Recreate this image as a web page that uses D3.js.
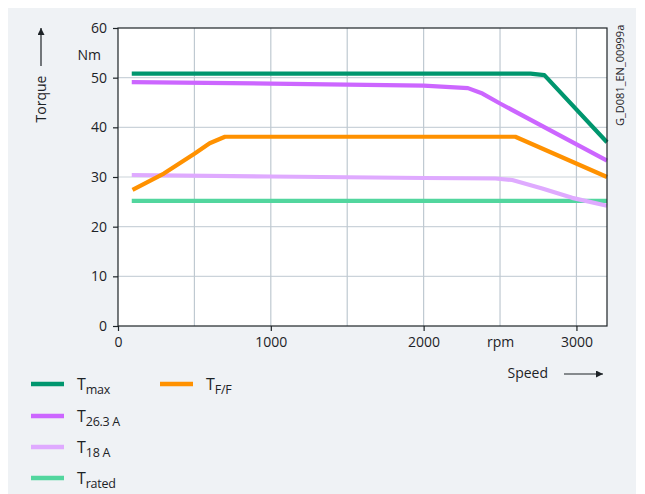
<!DOCTYPE html>
<html><head><meta charset="utf-8">
<script src="https://cdn.jsdelivr.net/npm/d3@7"></script>
<style>
html,body{margin:0;padding:0;background:#fff;}
svg{display:block;font-family:"Open Sans","Noto Sans",sans-serif;}
</style></head>
<body>
<script>
// ---- data ----
const tmaxRpm   = [90, 2700, 2790, 3200];
const tmaxVal   = [50.8, 50.8, 50.5, 37.0];
const t263Rpm   = [90, 1000, 2000, 2290, 2385, 2500, 3200];
const t263Val   = [49.1, 48.8, 48.4, 47.9, 46.8, 44.8, 33.3];
const t18Rpm    = [90, 1000, 2000, 2470, 2580, 2776, 2972, 3200];
const t18Val    = [30.4, 30.1, 29.8, 29.7, 29.4, 27.7, 25.8, 24.2];
const tffRpm    = [95, 300, 500, 600, 700, 2600, 3200];
const tffVal    = [27.4, 30.7, 34.7, 36.8, 38.1, 38.1, 30.0];
const tratedRpm = [90, 3200];
const tratedVal = [25.2, 25.2];
const yTicks = [0, 10, 20, 30, 40, 50, 60];
const xGrid  = [500, 1000, 1500, 2000, 2500, 3000];
const xTickLabels = [[0, "0"], [1000, "1000"], [2000, "2000"], [2500, "rpm"], [3000, "3000"]];

const series = [
  {name: "max",    sub: "max",    rpm: tmaxRpm,   val: tmaxVal,   color: "#00966e"},
  {name: "26.3",   sub: "26.3 A", rpm: t263Rpm,   val: t263Val,   color: "#cc66ff"},
  {name: "18",     sub: "18 A",   rpm: t18Rpm,    val: t18Val,    color: "#dfaaff"},
  {name: "rated",  sub: "rated",  rpm: tratedRpm, val: tratedVal, color: "#52d69e"},
  {name: "ff",     sub: "F/F",    rpm: tffRpm,    val: tffVal,    color: "#ff9100"}
];
const drawOrder = ["rated", "18", "ff", "26.3", "max"];

const W = 645, H = 494;
const svg = d3.select("body").append("svg").attr("width", W).attr("height", H);
svg.append("rect").attr("x", 8).attr("y", 8).attr("width", 628).attr("height", 486).attr("fill", "#eff2f5");

const x = d3.scaleLinear().domain([0, 3200]).range([118, 607]);
const y = d3.scaleLinear().domain([0, 60]).range([326, 28]);

svg.append("rect").attr("x", x(0)).attr("y", y(60)).attr("width", x(3200) - x(0)).attr("height", y(0) - y(60)).attr("fill", "#fff");

// grid
const g = svg.append("g");
g.selectAll(".hg").data(yTicks.filter(d => d > 0 && d < 60)).enter().append("line")
  .attr("x1", x(0)).attr("x2", x(3200)).attr("y1", d => y(d)).attr("y2", d => y(d))
  .attr("stroke", "#cbd3da").attr("stroke-width", 1.2);
g.selectAll(".vg").data(xGrid).enter().append("line")
  .attr("x1", d => x(d)).attr("x2", d => x(d)).attr("y1", y(0)).attr("y2", y(60))
  .attr("stroke", "#bfc9d1").attr("stroke-width", 1.2);

// series
const line = d3.line().x(d => x(d[0])).y(d => y(d[1]));
drawOrder.forEach(n => {
  const s = series.find(k => k.name === n);
  svg.append("path").datum(s.rpm.map((r, i) => [r, s.val[i]]))
    .attr("d", line).attr("fill", "none").attr("stroke", s.color)
    .attr("stroke-width", 4.2).attr("stroke-linejoin", "round");
});

// frame
const axisC = "#1d2327";
svg.append("rect").attr("x", x(0)).attr("y", y(60)).attr("width", x(3200) - x(0)).attr("height", y(0) - y(60))
  .attr("fill", "none").attr("stroke", axisC).attr("stroke-width", 1.2);

// y axis
const yAxis = d3.axisLeft(y).tickValues(yTicks).tickSize(5).tickPadding(6);
const ya = svg.append("g").attr("transform", `translate(${x(0)},0)`).call(yAxis);
ya.select(".domain").remove();
ya.selectAll("line").attr("stroke", axisC).attr("stroke-width", 1.2);
ya.selectAll("text").attr("font-size", 14).attr("fill", "#1d2327").attr("font-family", "'Open Sans','Noto Sans',sans-serif");

// x axis
const xAxis = d3.axisBottom(x).tickValues(xTickLabels.map(d => d[0])).tickFormat((d, i) => xTickLabels[i][1]).tickSize(5).tickPadding(6);
const xa = svg.append("g").attr("transform", `translate(0,${y(0)})`).call(xAxis);
xa.select(".domain").remove();
xa.selectAll("line").attr("stroke", (d) => d === 2500 ? "none" : axisC).attr("stroke-width", 1.2);
xa.selectAll("text").attr("font-size", 14).attr("fill", "#1d2327").attr("font-family", "'Open Sans','Noto Sans',sans-serif");

// arrow marker
svg.append("defs").append("marker").attr("id", "arr").attr("viewBox", "0 0 10 10")
  .attr("refX", 10).attr("refY", 5).attr("markerWidth", 10).attr("markerHeight", 7)
  .attr("markerUnits", "userSpaceOnUse").attr("orient", "auto")
  .append("path").attr("d", "M0,0 L10,5 L0,10 Z").attr("fill", "#1d2327");

// Torque label
svg.append("line").attr("x1", 41).attr("x2", 41).attr("y1", 66).attr("y2", 28)
  .attr("stroke", "#1d2327").attr("stroke-width", 1.2).attr("marker-end", "url(#arr)");
svg.append("text").attr("transform", "translate(46,99) rotate(-90)").attr("text-anchor", "middle")
  .attr("font-size", 14).attr("fill", "#1d2327").text("Torque");
svg.append("text").attr("x", 101).attr("y", 60).attr("text-anchor", "end")
  .attr("font-size", 14).attr("fill", "#1d2327").text("Nm");

// Speed label
svg.append("text").attr("x", 548).attr("y", 378).attr("text-anchor", "end")
  .attr("font-size", 14).attr("fill", "#1d2327").text("Speed");
svg.append("line").attr("x1", 564).attr("x2", 603).attr("y1", 374).attr("y2", 374)
  .attr("stroke", "#1d2327").attr("stroke-width", 1.2).attr("marker-end", "url(#arr)");

// ID label
svg.append("text").attr("transform", "translate(624,126) rotate(-90)")
  .attr("font-size", 11).attr("fill", "#1d2327").text("G_D081_EN_00999a");

// legend
const legendPos = {
  "max":   [31, 384], "26.3": [31, 416], "18": [31, 447], "rated": [31, 478], "ff": [160, 384]
};
series.forEach(s => {
  const [lx, ly] = legendPos[s.name];
  svg.append("line").attr("x1", lx).attr("x2", lx + 33).attr("y1", ly).attr("y2", ly)
    .attr("stroke", s.color).attr("stroke-width", 4.5);
  const t = svg.append("text").attr("x", lx + 46).attr("y", ly + 6).attr("font-size", 16).attr("fill", "#1d2327");
  t.append("tspan").text("T");
  t.append("tspan").attr("dy", 3.5).attr("font-size", 12.5).attr("letter-spacing", -0.3).text(s.sub);
});
</script>
</body></html>
